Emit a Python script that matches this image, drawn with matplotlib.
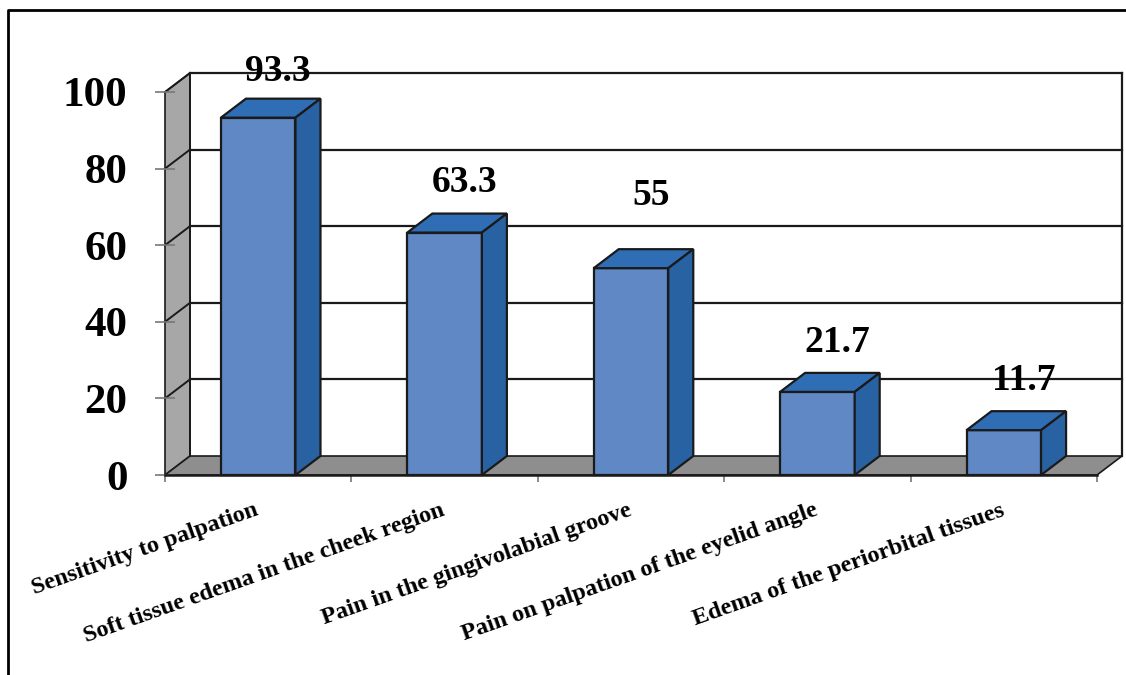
import matplotlib
matplotlib.use("Agg")
import matplotlib.pyplot as plt
from matplotlib.patches import Polygon
from matplotlib.lines import Line2D

categories = ["Sensitivity to palpation",
              "Soft tissue edema in the cheek region",
              "Pain in the gingivolabial groove",
              "Pain on palpation of the eyelid angle",
              "Edema of the periorbital tissues"]
values = [93.3, 63.3, 55, 21.7, 11.7]
bar_values = [93.3, 63.3, 54, 21.7, 11.7]
value_labels = ["93.3", "63.3", "55", "21.7", "11.7"]
yticks = [0, 20, 40, 60, 80, 100]

# layout / style
label_lift = [12, 13, 18, 13, 13]
W, H = 1126, 675
FONT = "Liberation Serif"
FRONT = "#5F88C4"
TOP = "#2F6EB5"
SIDE = "#2962A3"
FLOOR = "#8E8E8E"
WALL = "#A7A7A7"
EDGE = "#1a1a1a"

fig = plt.figure(figsize=(W / 100, H / 100), dpi=100)
left, right, y0, y100 = 165, 1097, 475, 92
ax = fig.add_axes([left / W, (H - y0) / H, (right - left) / W, (y0 - y100) / H])
n = len(categories)
ax.set_xlim(0, n)
ax.set_ylim(0, 100)
for s in ax.spines.values():
    s.set_visible(False)
ax.patch.set_visible(False)

# depth in data units
px_x = (right - left) / n
px_y = (y0 - y100) / 100
dx = 25 / px_x
dy = 19 / px_y

# side wall
ax.add_patch(Polygon([(0, 0), (0, 100), (dx, 100 + dy), (dx, dy)], closed=True,
                     facecolor=WALL, edgecolor=EDGE, lw=1.2, clip_on=False, zorder=1))
# floor
ax.add_patch(Polygon([(0, 0), (n, 0), (n + dx, dy), (dx, dy)], closed=True,
                     facecolor=FLOOR, edgecolor=EDGE, lw=1.2, clip_on=False, zorder=1))
# back wall grid
for v in yticks[1:]:
    ax.add_line(Line2D([dx, n + dx], [v + dy, v + dy], color=EDGE, lw=1.6,
                       clip_on=False, zorder=1.5))
    ax.add_line(Line2D([0, dx], [v, v + dy], color=EDGE, lw=1.4,
                       clip_on=False, zorder=1.5))
ax.add_line(Line2D([n + dx, n + dx], [dy, 100 + dy], color=EDGE, lw=1.6,
                   clip_on=False, zorder=1.5))
ax.add_line(Line2D([dx, dx], [dy, 100 + dy], color=EDGE, lw=1.4,
                   clip_on=False, zorder=1.5))
ax.add_line(Line2D([0, n], [0, 0], color=EDGE, lw=1.8, clip_on=False, zorder=2))

# bars
bw = 0.4
for i, v in enumerate(bar_values):
    x0 = i + 0.5 - bw / 2
    x1 = x0 + bw
    ax.add_patch(Polygon([(x0, 0), (x1, 0), (x1, v), (x0, v)], closed=True,
                         facecolor=FRONT, edgecolor=EDGE, lw=1.6, clip_on=False, zorder=3))
    ax.add_patch(Polygon([(x0, v), (x1, v), (x1 + dx, v + dy), (x0 + dx, v + dy)], closed=True,
                         facecolor=TOP, edgecolor=EDGE, lw=1.6, clip_on=False, zorder=3))
    ax.add_patch(Polygon([(x1, 0), (x1 + dx, dy), (x1 + dx, v + dy), (x1, v)], closed=True,
                         facecolor=SIDE, edgecolor=EDGE, lw=1.6, clip_on=False, zorder=3))
    ax.text(i + 0.5 + dx / 2 + 0.04, values[i] + label_lift[i], value_labels[i],
            ha="center", va="center", fontsize=27, fontweight="bold",
            family=FONT, color="black", zorder=5, clip_on=False)

# y axis ticks
ax.set_yticks(yticks)
ax.set_yticklabels([str(t) for t in yticks], fontsize=31, fontweight="bold", family=FONT)
ax.tick_params(axis="y", direction="inout", length=14, width=1.2, color="#777777", pad=20)

# x axis ticks at boundaries
ax.set_xticks(range(n + 1))
ax.set_xticklabels([])
ax.tick_params(axis="x", direction="out", length=5, width=1.2, color="#777777")

# category labels
for i, c in enumerate(categories):
    ax.text(i + 0.5 - 0.02, -6.5, c, rotation=19.5, rotation_mode="anchor",
            ha="right", va="top", fontsize=17.5, fontweight="bold", family=FONT,
            clip_on=False)

# outer frame
fig.add_artist(Line2D([8 / W, 8 / W, 1.0], [0.0, 1 - 10 / H, 1 - 10 / H],
                      transform=fig.transFigure, color="black", lw=2))

fig.savefig("out.png", dpi=100)
